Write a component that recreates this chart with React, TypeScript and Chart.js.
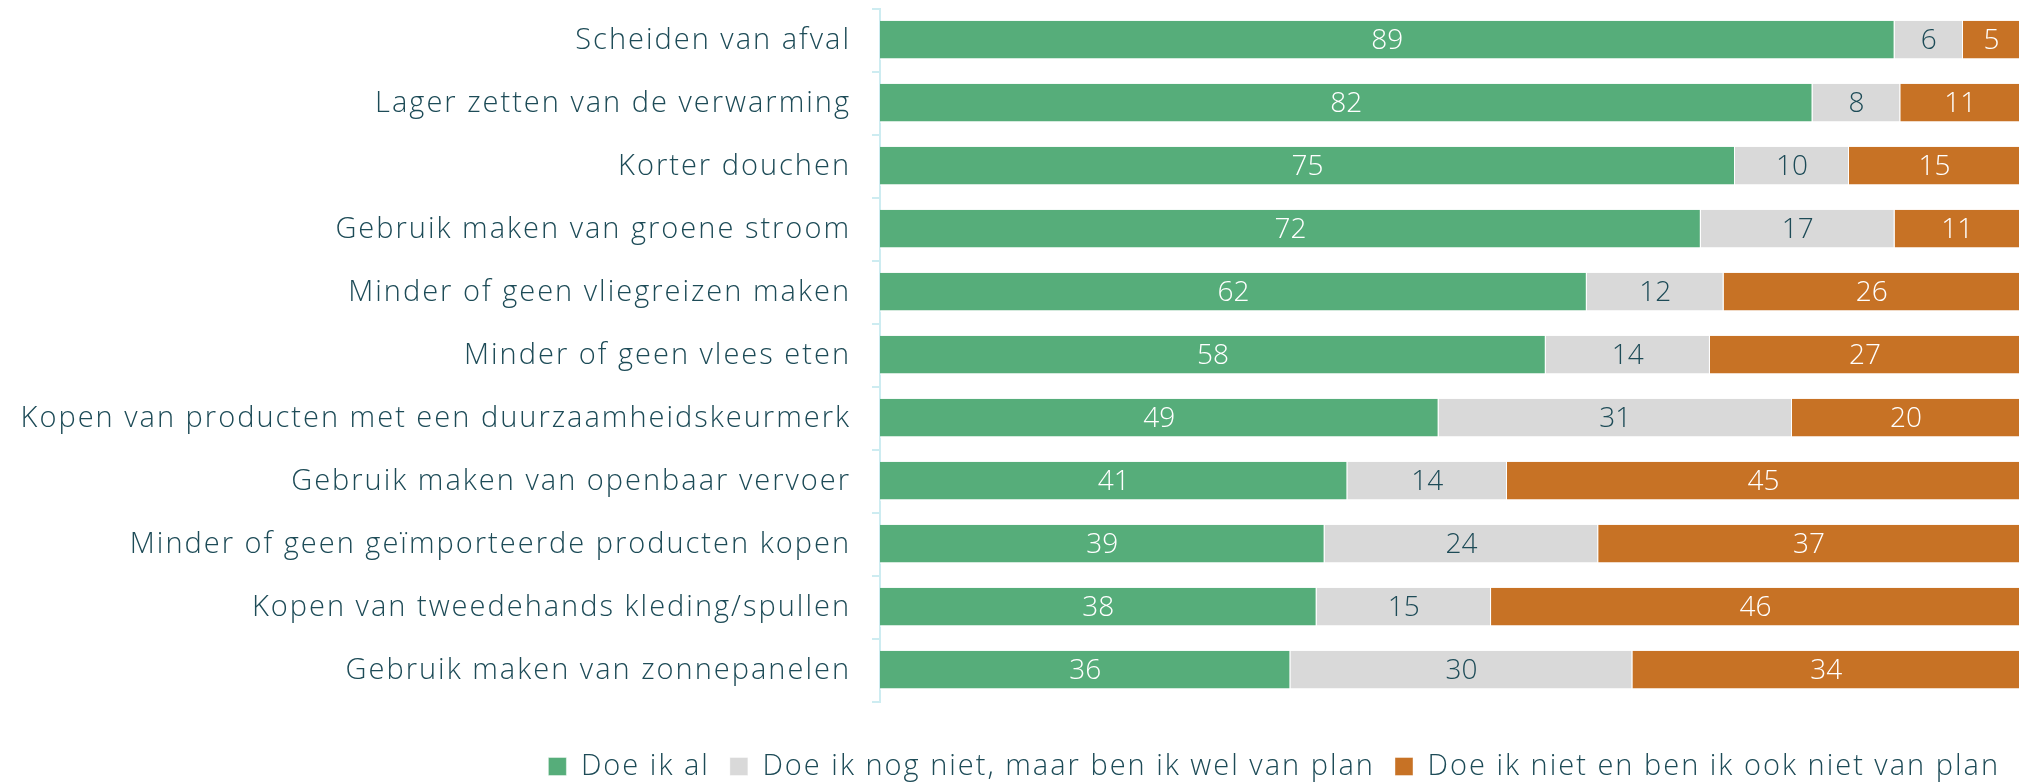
import React, { useEffect, useRef } from "react";
import { Chart, registerables } from "chart.js";

Chart.register(...registerables);

const categories = [
  "Scheiden van afval",
  "Lager zetten van de verwarming",
  "Korter douchen",
  "Gebruik maken van groene stroom",
  "Minder of geen vliegreizen maken",
  "Minder of geen vlees eten",
  "Kopen van producten met een duurzaamheidskeurmerk",
  "Gebruik maken van openbaar vervoer",
  "Minder of geen geïmporteerde producten kopen",
  "Kopen van tweedehands kleding/spullen",
  "Gebruik maken van zonnepanelen",
];

const doeIkAl = [89, 81.8, 75, 72, 62, 58.4, 49, 41, 39, 38.3, 36];
const welVanPlan = [6, 7.7, 10, 17, 12, 14.4, 31, 14, 24, 15.3, 30];
const nietVanPlan = [5, 10.5, 15, 11, 26, 27.2, 20, 45, 37, 46.4, 34];

const seriesNames = [
  "Doe ik al",
  "Doe ik nog niet, maar ben ik wel van plan",
  "Doe ik niet en ben ik ook niet van plan",
];

const GREEN = "#56ad7a";
const GREY = "#d9d9d9";
const ORANGE = "#c77225";
const TEAL = "#1d4b57";
const AXIS = "#cdecf1";
const FONT = "'Open Sans', sans-serif";

const labelColors = ["#ffffff", TEAL, "#ffffff"];

const spacing = {
  id: "spacing",
  beforeUpdate(chart: any) {
    chart.ctx.letterSpacing = "2px";
  },
  beforeDraw(chart: any) {
    chart.ctx.letterSpacing = "2px";
  },
};

const valueLabels = {
  id: "valueLabels",
  afterDatasetsDraw(chart: any) {
    const ctx = chart.ctx;
    ctx.save();
    ctx.letterSpacing = "0px";
    ctx.font = `300 28px ${FONT}`;
    ctx.textAlign = "center";
    ctx.textBaseline = "middle";
    chart.data.datasets.forEach((ds: any, di: number) => {
      const meta = chart.getDatasetMeta(di);
      meta.data.forEach((bar: any, i: number) => {
        const v = ds.data[i];
        const x = (bar.x + bar.base) / 2;
        ctx.fillStyle = labelColors[di];
        ctx.fillText(String(Math.round(v)), x, bar.y + 1);
      });
    });
    ctx.restore();
  },
};

export default function App() {
  const ref = useRef<HTMLCanvasElement>(null);
  useEffect(() => {
    document.body.style.margin = "0";
    const chart = new Chart(ref.current!, {
      type: "bar",
      data: {
        labels: categories,
        datasets: [
          { label: seriesNames[0], data: doeIkAl, backgroundColor: GREEN },
          { label: seriesNames[1], data: welVanPlan, backgroundColor: GREY },
          { label: seriesNames[2], data: nietVanPlan, backgroundColor: ORANGE },
        ],
      },
      options: {
        indexAxis: "y",
        responsive: false,
        animation: false,
        devicePixelRatio: 1,
        layout: { padding: { top: 9, right: 0, left: 0, bottom: -8 } },
        datasets: {
          bar: {
            barPercentage: 0.627,
            categoryPercentage: 1,
            borderWidth: { bottom: 2, right: 1 } as any,
            borderColor: "rgba(255,255,255,0.55)",
            borderSkipped: false,
          },
        },
        scales: {
          x: {
            stacked: true,
            min: 0,
            max: 100,
            display: true,
            ticks: { display: false },
            grid: { display: false },
            border: { display: false },
            afterFit: (s: any) => {
              s.height = 30;
            },
          },
          y: {
            stacked: true,
            grid: {
              drawOnChartArea: false,
              tickLength: 8,
              color: AXIS,
              lineWidth: 2,
            },
            border: { display: true, color: AXIS, width: 2 },
            ticks: {
              color: TEAL,
              padding: 21,
              font: { family: FONT, size: 29, weight: 300 as any },
            },
            afterFit: (s: any) => {
              s.width = 880;
              s.paddingTop = 0;
              s.paddingBottom = 0;
            },
          },
        },
        plugins: {
          legend: {
            position: "bottom",
            align: "end",
            labels: {
              boxWidth: 18,
              boxHeight: 18,
              padding: 20,
              color: TEAL,
              font: { family: FONT, size: 29, weight: 300 as any },
            },
          },
          tooltip: { enabled: false },
        },
      },
      plugins: [spacing, valueLabels],
    });
    return () => chart.destroy();
  }, []);
  return (
    <div style={{ width: 2020, height: 783, overflow: "hidden" }}>
      <canvas ref={ref} width={2020} height={783} style={{ display: "block" }} />
    </div>
  );
}
